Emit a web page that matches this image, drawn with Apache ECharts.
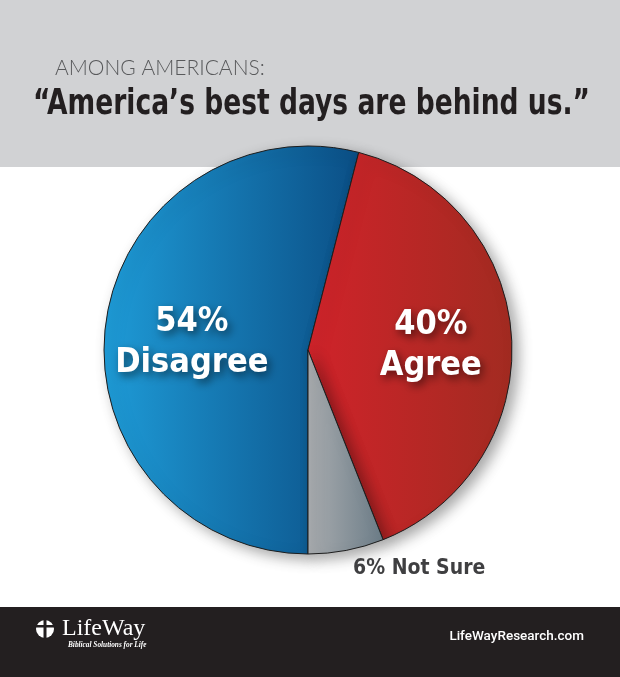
<!DOCTYPE html>
<html>
<head>
<meta charset="utf-8">
<script src="https://cdn.jsdelivr.net/npm/echarts@6/dist/echarts.min.js"></script>
<style>
html,body{margin:0;padding:0;background:#fff;}
#chart{width:620px;height:677px;}
</style>
</head>
<body>
<div id="chart"></div>
<script>
const categories = ['Disagree', 'Agree', 'Not Sure'];
const values = [54, 40, 6];
const kicker = 'AMONG AMERICANS:';
const title = '\u201CAmerica\u2019s best days are behind us.\u201D';
const siteText = 'LifeWayResearch.com';
const logoText = 'LifeWay';
const logoTag = 'Biblical Solutions for Life';

const gradients = [
  ['#1e9bd7', '#0b4f86'],
  ['#d0232a', '#a22b21'],
  ['#a9acaf', '#6c7d88']
];

const condensed = '"DejaVu Sans Condensed", sans-serif';

// measure to horizontally condense the title to the reference width
const mctx = document.createElement('canvas').getContext('2d');
const titleFont = 'bold 36px "DejaVu Sans", sans-serif';
mctx.font = titleFont;
const titleW = mctx.measureText(title).width;
const titleScale = 557 / titleW;

const chart = echarts.init(document.getElementById('chart'), null, {renderer: 'canvas'});

const data = categories.map((c, i) => ({
  name: c,
  value: values[i],
  itemStyle: {
    color: new echarts.graphic.LinearGradient(0, 0, 1, 0, [
      {offset: 0, color: gradients[i][0]},
      {offset: 1, color: gradients[i][1]}
    ])
  },
  label: i < 2 ? {
    position: 'inside',
    formatter: p => p.value + '%\n' + p.name,
    color: '#ffffff',
    fontFamily: condensed,
    fontWeight: 'bold',
    fontSize: 34,
    lineHeight: 41,
    textShadowColor: 'rgba(0,0,0,0.55)',
    textShadowBlur: 8,
    textShadowOffsetX: 3,
    textShadowOffsetY: 4
  } : {
    position: 'outside',
    formatter: p => p.value + '% ' + p.name,
    color: '#3f3f41',
    fontFamily: condensed,
    fontWeight: 'bold',
    fontSize: 21
  },
  labelLine: {show: false}
}));

const labelShift = {
  'Disagree': {dx: -12, dy: 6},
  'Agree': {dx: 18, dy: 2},
  'Sure': {dx: -31, dy: 3}
};

chart.setOption({
  backgroundColor: '#ffffff',
  animation: false,
  graphic: [
    {type: 'rect', z: -10, shape: {x: 0, y: 0, width: 620, height: 167}, style: {fill: '#d1d2d4'}},
    {type: 'rect', z: -10, shape: {x: 0, y: 607, width: 620, height: 70}, style: {fill: '#231f20'}},
    {type: 'text', x: 55, y: 58, style: {text: kicker, fill: '#58595b', font: '300 21px Lato, "Open Sans", sans-serif'}},
    {type: 'text', x: 33, y: 87, scaleX: titleScale, style: {text: title, fill: '#231f20', font: titleFont}},
    {type: 'text', x: 584, y: 630, style: {text: siteText, fill: '#ffffff', font: '500 13.5px Roboto, sans-serif', align: 'right'}},
    {type: 'circle', shape: {cx: 45, cy: 629, r: 9}, style: {fill: '#ffffff'}},
    {type: 'rect', shape: {x: 43.5, y: 619, width: 3, height: 20}, style: {fill: '#231f20'}},
    {type: 'rect', shape: {x: 35, y: 625, width: 19, height: 2.5}, style: {fill: '#231f20'}},
    {type: 'text', x: 62, y: 617, style: {text: logoText, fill: '#ffffff', font: '24px "Liberation Serif", serif'}},
    {type: 'text', x: 68, y: 642, style: {text: logoTag, fill: '#ffffff', font: 'italic bold 7.3px "Liberation Serif", serif'}}
  ],
  series: [{
    type: 'pie',
    center: [308, 350],
    radius: 204,
    startAngle: -90,
    clockwise: true,
    avoidLabelOverlap: false,
    silent: true,
    itemStyle: {
      borderColor: '#1d1d1d',
      borderWidth: 1,
      shadowColor: 'rgba(0,0,0,0.35)',
      shadowBlur: 14,
      shadowOffsetX: 6,
      shadowOffsetY: 5
    },
    labelLayout: p => labelShift[p.text.split(/\s/).pop()] || {},
    data: data
  }]
});
</script>
</body>
</html>
